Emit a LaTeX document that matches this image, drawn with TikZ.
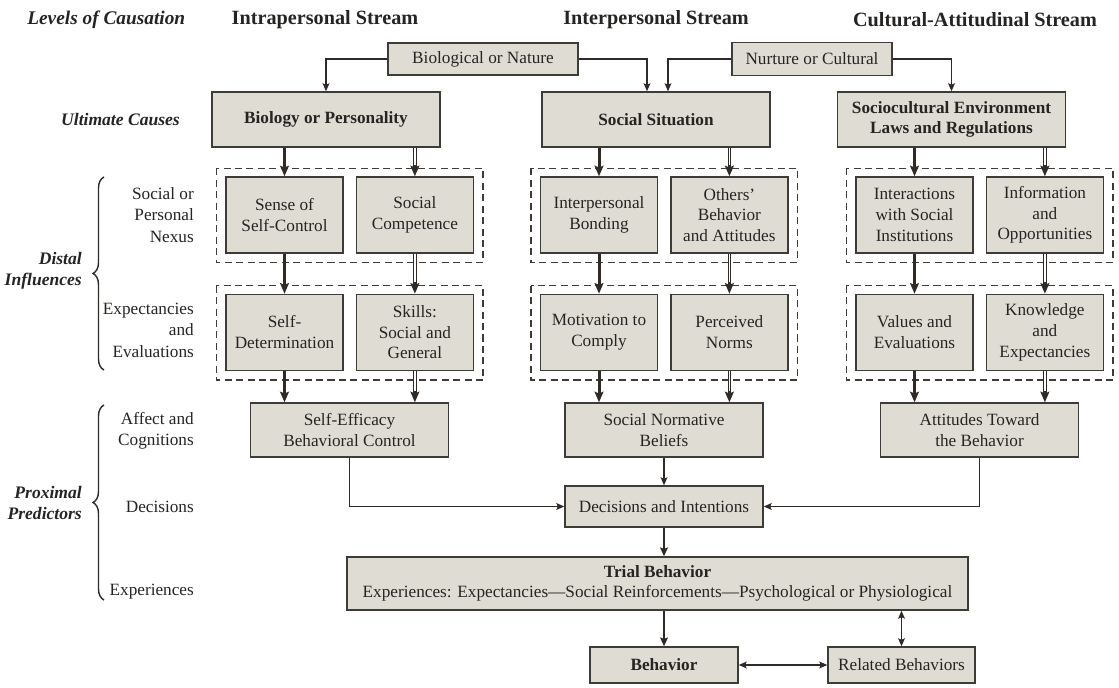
\documentclass[tikz,border=0pt]{standalone}
\usepackage{fontspec}
\setmainfont{Liberation Serif}
\usepackage{xcolor}
\usepackage{tikz}
\usetikzlibrary{positioning,shapes,arrows.meta,decorations.pathreplacing}
\definecolor{boxfill}{RGB}{223,221,211}
\definecolor{boxline}{RGB}{62,60,56}
\definecolor{inkcol}{RGB}{48,42,38}
\definecolor{txtcol}{RGB}{38,36,34}

\begin{document}
\begin{tikzpicture}[x=0.02cm, y=-0.02cm,
    >={Stealth[length=4.5pt,width=3.8pt,inset=0.8pt]},
    every node/.style={text=txtcol, font=\fontsize{9.8}{11.8}\selectfont},
    box/.style={draw=boxline, fill=boxfill, line width=0.8pt, align=center, inner sep=2pt},
    cell/.style={box, minimum width=2.34cm, minimum height=1.52cm},
    ult/.style={box, minimum width=4.56cm, minimum height=1.1cm, font=\fontsize{9.8}{11.8}\selectfont\bfseries},
    pred/.style={box, minimum width=3.96cm, minimum height=1.08cm},
    grp/.style={draw=boxline, line width=0.8pt, dash pattern=on 4pt off 2.5pt},
    streamhead/.style={font=\fontsize{11.5}{13}\selectfont\bfseries},
    cause/.style={anchor=east, align=right, font=\fontsize{10}{12.2}\selectfont\bfseries\itshape},
    rowlab/.style={anchor=east, align=right, font=\fontsize{9.8}{12.2}\selectfont},
    link/.style={draw=inkcol, line width=0.9pt, ->},
    mid/.style={draw=inkcol, line width=1.3pt, -{Stealth[length=5pt,width=4.4pt,inset=0.8pt]}},
    heavy/.style={draw=inkcol, line width=1.7pt, -{Stealth[length=6pt,width=5pt,inset=1pt]}},
    twin/.style={draw=inkcol, line width=2.1pt, -{Stealth[length=6pt,width=5pt,inset=1pt]},
        postaction={draw=white, line width=0.8pt, -, shorten >=6.5pt}},
    brc/.style={draw=inkcol, line width=0.8pt, decorate, decoration={brace, amplitude=0.22cm}}]
    \useasboundingbox (0,0) rectangle (1119,688);

    % επικεφαλίδες
    \node[anchor=west, inner sep=0pt, font=\fontsize{11}{13}\selectfont\bfseries\itshape] (lvl) at (27,20) {Levels of Causation};
    \node[streamhead] (hintra) at (325,20) {Intrapersonal Stream};
    \node[streamhead] (hinter) at (656,20) {Interpersonal Stream};
    \node[streamhead] (hcult) at (975,20) {Cultural-Attitudinal Stream};

    % πηγές
    \node[box, minimum width=3.8cm, minimum height=0.64cm] (nat) at (483,59) {Biological or Nature};
    \node[box, minimum width=3.2cm, minimum height=0.66cm] (nur) at (812,59) {Nurture or Cultural};

    % απώτερες αιτίες
    \node[ult] (bio) at (326,119.5) {Biology or Personality};
    \node[ult] (soc) at (656,119.5) {Social Situation};
    \node[ult] (cul) at (951.5,119.5) {Sociocultural Environment\\Laws and Regulations};
    \draw[link] (nat.west) -| (bio.north);
    \draw[link] (nat.east) -| ([xshift=-0.18cm]soc.north);
    \draw[link] (nur.west) -| ([xshift=0.24cm]soc.north);
    \draw[link] (nur.east) -| (cul.north);

    % ρεύμα 1
    \node[cell] (sc) at (284.5,215) {Sense of\\Self-Control};
    \node[cell, right=0.24cm of sc] (comp) {Social\\Competence};
    \node[cell, below=0.8cm of sc] (det) {Self-\\Determination};
    \node[cell, below=0.8cm of comp] (skill) {Skills:\\Social and\\General};
    \draw[grp] ([xshift=-0.18cm,yshift=0.16cm]sc.north west) rectangle ([xshift=0.18cm,yshift=-0.18cm]comp.south east);
    \draw[grp] ([xshift=-0.18cm,yshift=0.16cm]det.north west) rectangle ([xshift=0.18cm,yshift=-0.18cm]skill.south east);

    % ρεύμα 2
    \node[cell] (bond) at (599,215) {Interpersonal\\Bonding};
    \node[cell, right=0.24cm of bond] (oth) {Others'\\Behavior\\and Attitudes};
    \node[cell, below=0.8cm of bond] (motiv) {Motivation to\\Comply};
    \node[cell, below=0.8cm of oth] (norms) {Perceived\\Norms};
    \draw[grp] ([xshift=-0.18cm,yshift=0.16cm]bond.north west) rectangle ([xshift=0.18cm,yshift=-0.18cm]oth.south east);
    \draw[grp] ([xshift=-0.18cm,yshift=0.16cm]motiv.north west) rectangle ([xshift=0.18cm,yshift=-0.18cm]norms.south east);

    % ρεύμα 3
    \node[cell] (inst) at (914.5,215) {Interactions\\with Social\\Institutions};
    \node[cell, right=0.24cm of inst] (info) {Information\\and\\Opportunities};
    \node[cell, below=0.8cm of inst] (val) {Values and\\Evaluations};
    \node[cell, below=0.8cm of info] (know) {Knowledge\\and\\Expectancies};
    \draw[grp] ([xshift=-0.18cm,yshift=0.16cm]inst.north west) rectangle ([xshift=0.18cm,yshift=-0.18cm]info.south east);
    \draw[grp] ([xshift=-0.18cm,yshift=0.16cm]val.north west) rectangle ([xshift=0.18cm,yshift=-0.18cm]know.south east);

    % εγγύτεροι παράγοντες
    \node[pred] (eff) at (349.5,430) {Self-Efficacy\\Behavioral Control};
    \node[pred] (snb) at (664,430) {Social Normative\\Beliefs};
    \node[pred] (att) at (979.5,430) {Attitudes Toward\\the Behavior};
    \node[pred, minimum height=0.82cm] (dec) at (664,506.5) {Decisions and Intentions};
    \node[box, minimum width=12.42cm, minimum height=1.06cm] (trial) at (657.5,583.5) {\textbf{Trial Behavior}\\Experiences: Expectancies---Social Reinforcements---Psychological or Physiological};
    \node[box, minimum width=2.96cm, minimum height=0.72cm, font=\fontsize{9.8}{11.8}\selectfont\bfseries] (beh) at (664,665) {Behavior};
    \node[box, minimum width=2.94cm, minimum height=0.72cm] (rel) at (901.5,665) {Related Behaviors};

    % βέλη ανά στήλη
    \draw[heavy] (sc.north |- bio.south) -- (sc.north);
    \draw[twin] (comp.north |- bio.south) -- (comp.north);
    \draw[heavy] (sc.south) -- (det.north);
    \draw[twin] (comp.south) -- (skill.north);
    \draw[heavy] (det.south) -- (det.south |- eff.north);
    \draw[twin] (skill.south) -- (skill.south |- eff.north);

    \draw[heavy] (bond.north |- soc.south) -- (bond.north);
    \draw[twin] (oth.north |- soc.south) -- (oth.north);
    \draw[heavy] (bond.south) -- (motiv.north);
    \draw[twin] (oth.south) -- (norms.north);
    \draw[heavy] (motiv.south) -- (motiv.south |- snb.north);
    \draw[twin] (norms.south) -- (norms.south |- snb.north);

    \draw[heavy] (inst.north |- cul.south) -- (inst.north);
    \draw[twin] (info.north |- cul.south) -- (info.north);
    \draw[heavy] (inst.south) -- (val.north);
    \draw[twin] (info.south) -- (know.north);
    \draw[heavy] (val.south) -- (val.south |- att.north);
    \draw[twin] (know.south) -- (know.south |- att.north);

    \draw[link] (eff.south) |- (dec.west);
    \draw[link] (att.south) |- (dec.east);
    \draw[link] (snb.south) -- (dec.north);
    \draw[mid] (dec.south) -- (dec.south |- trial.north);
    \draw[mid] (trial.south -| beh.north) -- (beh.north);
    \draw[link, <->] (rel.north) -- (rel.north |- trial.south);
    \draw[link, <->] (beh) -- (rel);

    % ετικέτες επιπέδων
    \node[cause] (ultl) at (186,120) {Ultimate Causes};
    \node[cause] (dist) at (88,271) {Distal\\Influences};
    \node[cause] (prox) at (88,503) {Proximal\\Predictors};
    \node[rowlab] (nex) at (200,215) {Social or\\Personal\\Nexus};
    \node[rowlab] (exev) at (200,330) {Expectancies\\and\\Evaluations};
    \node[rowlab] (affc) at (200,431) {Affect and\\Cognitions};
    \node[rowlab] (decl) at (200,507) {Decisions};
    \node[rowlab] (expl) at (200,592) {Experiences};
    \coordinate (dtop) at (104,177);
    \coordinate (dbot) at (104,370);
    \coordinate (ptop) at (104,405);
    \coordinate (pbot) at (104,600);
    \draw[brc] (dbot) -- (dtop);
    \draw[brc] (pbot) -- (ptop);
\end{tikzpicture}
\end{document}
